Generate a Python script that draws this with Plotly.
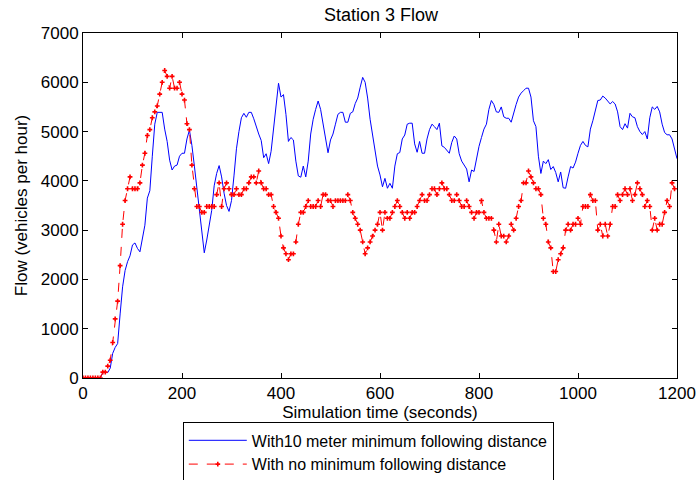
import plotly.graph_objects as go

# Station 3 flow, sampled every 5 s (vehicles per hour)
STEP = 5

flow_10m = [
    0, 0, 0, 0, 0, 0, 0, 0, 110, 110, 110, 200, 500, 620, 700, 1300, 1850, 2180, 2360, 2480,
    2700, 2740, 2630, 2560, 2800, 3100, 3650, 3800, 4500, 5150, 5390, 5390, 5390, 5050, 4800, 4420,
    4220, 4300, 4320, 4500, 4560, 4560, 4850, 5030, 4720, 4300, 3850, 3500, 2950, 2540, 2800, 3100,
    3400, 3900, 4150, 4310, 4080, 3750, 3500, 3380, 3600, 4100, 4650, 5000, 5280, 5370, 5290, 5390,
    5390, 5260, 5080, 4950, 4820, 4470, 4550, 4350, 4600, 5100, 5500, 5980, 5700, 5750, 5350, 4800,
    4880, 4830, 4400, 4100, 4074, 4300, 4080, 4400, 4950, 5250, 5450, 5620, 5450, 5150, 4800, 4570,
    4830, 4950, 5150, 5350, 5390, 5390, 5190, 5190, 5370, 5400, 5570, 5680, 5900, 6100, 6000, 5680,
    5250, 4900, 4600, 4300, 4120, 3880, 4050, 3850, 3950, 3850, 4300, 4550, 4575, 4850, 4930, 5150,
    5170, 5170, 4750, 4580, 4800, 4560, 4560, 4850, 5040, 5150, 5100, 5040, 5170, 4710, 4680, 4620,
    4560, 4780, 4910, 4850, 4550, 4400, 4320, 4240, 3980, 4220, 4190, 4450, 4700, 4880, 5050, 5150,
    5450, 5630, 5550, 5400, 5390, 5500, 5300, 5270, 5270, 5190, 5400, 5550, 5700, 5780, 5830, 5880,
    5880, 5700, 5220, 5100, 4500, 4150, 4400, 4350, 4430, 4230, 4290, 4170, 3980, 4180, 3860, 3850,
    4080, 4290, 4260, 4380, 4560, 4720, 4800, 4720, 4690, 5050, 5220, 5450, 5630, 5640, 5720, 5680,
    5620, 5560, 5610, 5560, 5400, 5100, 5040, 5160, 5070, 5370, 5300, 5280, 5100, 5000, 4940, 5000,
    4850, 5280, 5500, 5450, 5510, 5400, 5150, 4980, 4935, 4935, 4850, 4630, 4450,
]

flow_none = [
    0, 0, 0, 0, 0, 0, 0, 0, 120, 120, 240, 360, 720, 1200, 1560, 2280, 3120, 3600, 3840, 4080,
    3840, 3840, 3840, 3960, 4320, 4560, 4920, 5040, 5280, 5400, 5520, 5760, 6000, 6240, 6120, 5880,
    6120, 5880, 5880, 6000, 5760, 5640, 5160, 5040, 4320, 3840, 3480, 3480, 3360, 3360, 3480, 3480,
    3480, 3480, 3720, 3960, 3480, 3840, 3960, 3840, 3720, 3720, 3840, 3720, 3720, 3840, 3840, 3960,
    4080, 4080, 3960, 4200, 3960, 3840, 3840, 3720, 3720, 3480, 3360, 3240, 2880, 2640, 2520, 2400,
    2520, 2520, 2760, 3120, 3360, 3360, 3480, 3600, 3480, 3480, 3480, 3600, 3480, 3720, 3720, 3600,
    3600, 3480, 3600, 3600, 3600, 3600, 3600, 3720, 3600, 3360, 3240, 3120, 3000, 2760, 2520, 2640,
    2760, 2880, 3000, 3120, 3360, 3000, 3360, 3240, 3240, 3360, 3480, 3600, 3480, 3360, 3240, 3360,
    3240, 3360, 3360, 3480, 3600, 3720, 3600, 3600, 3720, 3840, 3840, 3720, 3840, 3960, 3840, 3840,
    3720, 3600, 3600, 3720, 3600, 3480, 3480, 3600, 3480, 3360, 3240, 3360, 3360, 3600, 3360, 3240,
    3240, 3240, 3000, 2760, 3120, 2880, 2880, 2760, 2880, 3120, 3000, 3240, 3480, 3600, 3960, 3960,
    4200, 4080, 3960, 3840, 3840, 3720, 3240, 3120, 2760, 2640, 2160, 2160, 2400, 2520, 2640, 3000,
    3120, 3000, 3120, 3120, 3240, 3120, 3480, 3480, 3480, 3720, 3600, 3600, 3000, 3120, 2880, 3120,
    2880, 3120, 3480, 3480, 3720, 3600, 3720, 3840, 3720, 3840, 3600, 3720, 3960, 3840, 3720, 3480,
    3600, 3480, 3000, 3240, 3000, 3120, 3120, 3360, 3600, 3480, 3960, 3840,
]

t_10m = [i * STEP for i in range(len(flow_10m))]
t_none = [i * STEP for i in range(len(flow_none))]

x_ticks = [0, 200, 400, 600, 800, 1000, 1200]
y_ticks = [0, 1000, 2000, 3000, 4000, 5000, 6000, 7000]

FONT = "Liberation Sans, Arial, sans-serif"
FS = 17

fig = go.Figure()

fig.add_trace(go.Scatter(
    x=t_10m, y=flow_10m,
    mode="lines",
    line=dict(color="#0000ff", width=1),
    name="With10 meter minimum following distance",
))

fig.add_trace(go.Scatter(
    x=t_none, y=flow_none,
    mode="lines+markers",
    line=dict(color="#ff0000", width=1, dash="dash"),
    marker=dict(symbol="cross", size=4, color="#ff0000"),
    name="With no minimum following distance",
))

axis_common = dict(
    showline=True, linecolor="black", linewidth=1, mirror="ticks",
    ticks="inside", ticklen=5, tickcolor="black",
    showgrid=False, zeroline=False, automargin=False,
    tickfont=dict(family=FONT, size=FS, color="black"),
)

fig.update_xaxes(
    range=[0, 1200], tickvals=x_ticks,
    title=dict(text="Simulation time (seconds)", font=dict(family=FONT, size=FS, color="black"), standoff=4),
    **axis_common,
)
fig.update_yaxes(
    range=[0, 7000], tickvals=y_ticks,
    title=dict(text="Flow (vehicles per hour)", font=dict(family=FONT, size=FS, color="black"), standoff=8),
    **axis_common,
)

fig.update_layout(
    width=699, height=480,
    plot_bgcolor="white", paper_bgcolor="white",
    margin=dict(l=83, r=22, t=33, b=102, autoexpand=False),
    title=dict(text="Station 3 Flow", x=0.545, xanchor="center", yref="container", y=0.97, yanchor="middle",
               font=dict(family=FONT, size=18, color="black")),
    legend=dict(
        x=0.168, xanchor="left",
        yref="container", y=0.12, yanchor="top",
        bgcolor="white", bordercolor="black", borderwidth=1,
        font=dict(family=FONT, size=16, color="black"),
        tracegroupgap=0, itemwidth=58,
    ),
    showlegend=True,
)

# the page body has an 8px default margin; drop it so the figure fills the window
fig.write_html("out.html", config={"displayModeBar": False},
               post_script="document.body.style.margin='0';")
